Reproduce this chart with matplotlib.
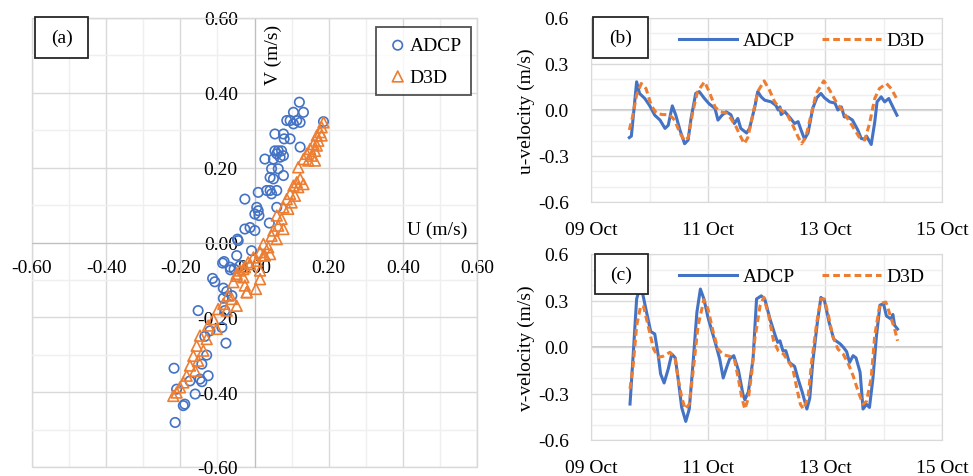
import matplotlib
matplotlib.use("Agg")
import matplotlib.pyplot as plt
import numpy as np
from matplotlib.patches import Rectangle
from matplotlib.ticker import MultipleLocator, FixedLocator, FuncFormatter

plt.rcParams['font.family'] = ['Liberation Serif', 'DejaVu Serif']

BLUE = '#4472C4'
ORANGE = '#ED7D31'

# ---- (a) scatter: U, V (m/s) ----
adcp_u = [0.121, 0.105, 0.132, 0.087, 0.096, 0.114, 0.123, 0.105, 0.186, 0.055,
          0.078, 0.080, 0.096, 0.123, 0.055, 0.064, 0.073, 0.060, 0.078, 0.028,
          0.051, 0.069, 0.046, 0.064, 0.078, 0.042, 0.051, 0.010, 0.033, 0.042,
          0.060, 0.046, -0.026, 0.006, 0.010, 0.001, 0.012, 0.060, 0.040, -0.026,
          -0.012, 0.001, -0.044, -0.048, -0.082, -0.066, -0.055, -0.039, -0.046,
          -0.008, -0.113, -0.107, -0.084, -0.075, -0.061, -0.084, -0.152, -0.080,
          -0.088, -0.120, -0.134, -0.077, -0.129, -0.142, -0.217, -0.125, -0.147,
          -0.174, -0.142, -0.160, -0.188, -0.214, -0.192, -0.210, -0.086, -0.065]
adcp_v = [0.375, 0.348, 0.348, 0.326, 0.326, 0.326, 0.321, 0.317, 0.323, 0.290,
          0.290, 0.277, 0.277, 0.255, 0.245, 0.245, 0.245, 0.237, 0.232, 0.223,
          0.223, 0.228, 0.197, 0.197, 0.179, 0.174, 0.170, 0.134, 0.139, 0.139,
          0.139, 0.130, 0.116, 0.094, 0.085, 0.076, 0.072, 0.094, 0.052, 0.036,
          0.040, 0.032, 0.005, -0.035, -0.051, -0.066, -0.071, -0.062, 0.009,
          -0.022, -0.096, -0.105, -0.122, -0.131, -0.142, -0.149, -0.182, -0.182,
          -0.227, -0.236, -0.251, -0.269, -0.301, -0.325, -0.336, -0.356, -0.365,
          -0.370, -0.372, -0.405, -0.432, -0.481, -0.436, -0.392, -0.055, -0.073]

d3d_u = [0.186, 0.181, 0.177, 0.168, 0.181, 0.172, 0.159, 0.168, 0.150, 0.163,
         0.141, 0.154, 0.132, 0.145, 0.163, 0.118, 0.114, 0.123, 0.105, 0.132,
         0.118, 0.096, 0.109, 0.087, 0.100, 0.078, 0.091, 0.060, 0.073, 0.064,
         0.078, 0.051, 0.046, 0.060, 0.024, 0.037, 0.015, 0.028, -0.003, -0.017,
         -0.026, -0.039, -0.048, 0.042, 0.024, 0.006, -0.012, -0.030, -0.048,
         -0.030, -0.057, -0.026, 0.004, -0.021, -0.071, -0.061, -0.084, -0.048,
         -0.098, -0.075, -0.111, -0.125, -0.102, -0.147, -0.129, -0.156, -0.138,
         -0.165, -0.152, -0.174, -0.160, -0.183, -0.192, -0.201, -0.210, -0.219,
         0.015, -0.021, 0.015]
d3d_v = [0.321, 0.308, 0.295, 0.286, 0.286, 0.272, 0.263, 0.259, 0.250, 0.245,
         0.237, 0.232, 0.223, 0.219, 0.219, 0.201, 0.161, 0.170, 0.152, 0.156,
         0.148, 0.130, 0.125, 0.116, 0.107, 0.094, 0.090, 0.072, 0.063, 0.045,
         0.036, 0.032, 0.018, 0.009, -0.004, -0.013, -0.026, -0.035, -0.040,
         -0.053, -0.066, -0.075, -0.089, -0.031, -0.035, -0.049, -0.058, -0.071,
         -0.084, -0.093, -0.106, -0.115, -0.124, -0.133, -0.142, -0.151, -0.164,
         -0.169, -0.178, -0.182, -0.205, -0.222, -0.231, -0.249, -0.258, -0.276,
         -0.289, -0.303, -0.316, -0.329, -0.343, -0.356, -0.374, -0.387, -0.401,
         -0.410, -0.098, -0.133, -0.075]

# ---- (b) u-velocity time series (day of October, m/s) ----
adcp_u_t = [9.655, 9.69, 9.78, 9.83, 9.92, 10.0, 10.09, 10.18, 10.265, 10.32, 10.39,
            10.45, 10.52, 10.6, 10.66, 10.71, 10.79, 10.85, 10.94, 11.02, 11.12,
            11.17, 11.24, 11.31, 11.39, 11.45, 11.51, 11.56, 11.66, 11.71, 11.80,
            11.85, 11.91, 11.97, 12.08, 12.16, 12.2, 12.23, 12.25, 12.31, 12.39,
            12.48, 12.54, 12.59, 12.65, 12.71, 12.79, 12.86, 12.93, 12.99, 13.08,
            13.17, 13.22, 13.28, 13.33, 13.39, 13.47, 13.56, 13.62, 13.68, 13.71,
            13.79, 13.85, 13.89, 13.96, 14.02, 14.09, 14.16, 14.23]
adcp_u_v = [-0.18, -0.17, 0.184, 0.108, 0.075, 0.03, -0.034, -0.066, -0.12, -0.10,
            0.027, -0.034, -0.13, -0.22, -0.196, -0.055, 0.108, 0.12, 0.075, 0.04,
            0.01, -0.066, -0.034, -0.012, -0.03, -0.088, -0.055, -0.12, -0.15, -0.12,
            0.02, 0.12, 0.085, 0.064, 0.053, 0.03, 0.0, 0.02, -0.03, -0.01, -0.045,
            -0.088, -0.076, -0.13, -0.19, -0.15, 0.01, 0.08, 0.108, 0.08, 0.053,
            0.045, 0.0, 0.02, -0.045, -0.045, -0.066, -0.13, -0.186, -0.19, -0.17,
            -0.225, -0.08, 0.053, 0.086, 0.053, 0.075, 0.02, -0.034]

d3d_u_t = [9.655, 9.71, 9.78, 9.86, 9.94, 10.03, 10.12, 10.23, 10.34, 10.43, 10.52,
           10.6, 10.66, 10.74, 10.82, 10.94, 11.02, 11.12, 11.2, 11.31, 11.39, 11.48,
           11.56, 11.62, 11.68, 11.77, 11.85, 11.96, 12.05, 12.14, 12.25, 12.36,
           12.45, 12.54, 12.6, 12.67, 12.76, 12.85, 12.98, 13.08, 13.19, 13.31,
           13.42, 13.51, 13.6, 13.68, 13.76, 13.85, 13.93, 14.05, 14.13, 14.24]
d3d_u_v = [-0.13, -0.045, 0.1, 0.173, 0.14, 0.03, -0.023, -0.03, -0.03, -0.066,
           -0.15, -0.2, -0.18, -0.012, 0.12, 0.184, 0.12, 0.02, -0.01, -0.02,
           -0.055, -0.11, -0.175, -0.22, -0.18, -0.023, 0.12, 0.19, 0.13, 0.053,
           0.0, -0.034, -0.1, -0.175, -0.22, -0.18, -0.034, 0.108, 0.19, 0.13,
           0.053, -0.01, -0.076, -0.13, -0.186, -0.196, -0.09, 0.075, 0.14, 0.173,
           0.14, 0.064]

# ---- (c) v-velocity time series (day of October, m/s) ----
adcp_v_t = [9.667, 9.72, 9.78, 9.82, 9.88, 9.95, 10.02, 10.09, 10.15, 10.19, 10.25,
            10.32, 10.38, 10.44, 10.49, 10.55, 10.62, 10.68, 10.75, 10.81, 10.87,
            10.93, 11.0, 11.09, 11.13, 11.2, 11.26, 11.32, 11.37, 11.44, 11.52,
            11.6, 11.63, 11.69, 11.77, 11.83, 11.91, 11.97, 12.06, 12.15, 12.19,
            12.23, 12.28, 12.33, 12.39, 12.48, 12.54, 12.61, 12.69, 12.74, 12.79,
            12.87, 12.93, 12.99, 13.07, 13.15, 13.26, 13.31, 13.37, 13.42, 13.48,
            13.53, 13.6, 13.65, 13.71, 13.76, 13.82, 13.88, 13.94, 14.0, 14.05,
            14.13, 14.16, 14.19, 14.24]
adcp_v_v = [-0.368, -0.056, 0.31, 0.363, 0.35, 0.224, 0.1, 0.084, -0.056, -0.174,
            -0.232, -0.142, -0.045, -0.07, -0.206, -0.39, -0.48, -0.40, -0.077,
            0.224, 0.374, 0.31, 0.19, 0.073, 0.02, -0.077, -0.2, -0.13, -0.077,
            -0.056, -0.15, -0.31, -0.34, -0.29, -0.077, 0.31, 0.33, 0.31, 0.18,
            0.073, 0.03, 0.04, -0.024, -0.024, -0.1, -0.125, -0.206, -0.29, -0.4,
            -0.33, -0.1, 0.16, 0.32, 0.30, 0.16, 0.05, 0.02, 0.0, -0.03, -0.1,
            -0.056, -0.07, -0.163, -0.4, -0.37, -0.39, -0.2, 0.073, 0.27, 0.28,
            0.2, 0.18, 0.21, 0.14, 0.116]

d3d_v_t = [9.667, 9.72, 9.78, 9.85, 9.9, 9.98, 10.07, 10.15, 10.23, 10.35, 10.44,
           10.49, 10.55, 10.61, 10.68, 10.75, 10.83, 10.93, 11.0, 11.09, 11.17,
           11.26, 11.37, 11.45, 11.52, 11.58, 11.63, 11.69, 11.75, 11.8, 11.89,
           11.955, 12.04, 12.12, 12.2, 12.29, 12.37, 12.45, 12.52, 12.58, 12.63,
           12.71, 12.77, 12.86, 12.93, 12.99, 13.06, 13.13, 13.22, 13.31, 13.4,
           13.48, 13.57, 13.65, 13.71, 13.79, 13.85, 13.94, 14.04, 14.11, 14.19,
           14.24]
d3d_v_v = [-0.27, -0.12, 0.137, 0.266, 0.26, 0.13, -0.013, -0.066, -0.06, -0.034,
           -0.077, -0.206, -0.325, -0.4, -0.37, -0.142, 0.137, 0.305, 0.245, 0.095,
           -0.013, -0.05, -0.06, -0.077, -0.206, -0.33, -0.4, -0.33, -0.16, 0.05,
           0.266, 0.32, 0.2, 0.04, -0.024, -0.045, -0.09, -0.14, -0.27, -0.37,
           -0.4, -0.33, -0.1, 0.16, 0.31, 0.31, 0.2, 0.073, -0.013, -0.045, -0.11,
           -0.185, -0.29, -0.37, -0.35, -0.2, 0.073, 0.28, 0.29, 0.21, 0.116, 0.04]

date_ticks = [9, 11, 13, 15]

W, H = 973, 477
fig = plt.figure(figsize=(W / 100, H / 100), dpi=100)

FS = 14
MAJOR = '#d9d9d9'
MINOR = '#efefef'
ZERO = '#bfbfbf'


def fig_box(x0, y0, x1, y1, label):
    # label box drawn in pixel coordinates of the figure
    fig.patches.append(Rectangle((x0 / W, 1 - y1 / H), (x1 - x0) / W, (y1 - y0) / H,
                                 transform=fig.transFigure, facecolor='white',
                                 edgecolor='#262626', linewidth=1.3, zorder=10))
    fig.text((x0 + x1) / 2 / W, 1 - (y0 + y1) / 2 / H, label, ha='center', va='center',
             fontsize=FS, zorder=11)


# ---------- panel (a) ----------
ax = fig.add_axes([32 / W, 1 - 468 / H, 445 / W, 449 / H])
ax.set_xlim(-0.6, 0.6)
ax.set_ylim(-0.6, 0.6)
ax.xaxis.set_major_locator(MultipleLocator(0.2))
ax.yaxis.set_major_locator(MultipleLocator(0.2))
ax.xaxis.set_minor_locator(MultipleLocator(0.1))
ax.yaxis.set_minor_locator(MultipleLocator(0.1))
ax.grid(which='major', color=MAJOR, linewidth=1.0, zorder=0)
ax.grid(which='minor', color=MINOR, linewidth=1.0, zorder=0)
fmt2 = FuncFormatter(lambda v, p: f"{v:.2f}".replace('-0.00', '0.00'))
ax.xaxis.set_major_formatter(fmt2)
ax.yaxis.set_major_formatter(fmt2)
for s in ['top', 'right']:
    ax.spines[s].set_color(MAJOR)
ax.spines['left'].set_position(('data', 0))
ax.spines['bottom'].set_position(('data', 0))
ax.spines['left'].set_color(ZERO)
ax.spines['bottom'].set_color(ZERO)
ax.add_patch(Rectangle((0, 0), 1, 1, transform=ax.transAxes, fill=False,
                       edgecolor=MAJOR, linewidth=1.0, clip_on=False, zorder=1))
ax.tick_params(which='both', length=0, labelsize=FS, pad=12)
ax.scatter(adcp_u, adcp_v, s=46, facecolors='none', edgecolors=BLUE, linewidths=1.2,
           marker='o', label='ADCP', zorder=3)
ax.scatter(d3d_u, d3d_v, s=60, facecolors='none', edgecolors=ORANGE, linewidths=1.2,
           marker='^', label='D3D', zorder=4)
ax.text(0.05, 0.505, 'V (m/s)', rotation=90, fontsize=FS, ha='center', va='center')
ax.text(0.492, 0.036, 'U (m/s)', fontsize=FS, ha='center', va='center')
leg = ax.legend(loc='upper right', bbox_to_anchor=(0.987, 0.98), fontsize=FS,
                frameon=True, fancybox=False, edgecolor='#262626', handletextpad=0.0,
                borderpad=0.5, labelspacing=0.7, handlelength=1.2, borderaxespad=0)
leg.get_frame().set_linewidth(1.3)
fig_box(35, 18, 88, 59, '(a)')


# ---------- panels (b) and (c) ----------
def ts_panel(rect, t1, y1, t2, y2, ylabel, label_box, label):
    a = fig.add_axes(rect)
    a.set_xlim(9, 15)
    a.set_ylim(-0.6, 0.6)
    a.xaxis.set_major_locator(FixedLocator(date_ticks))
    a.xaxis.set_minor_locator(MultipleLocator(1))
    a.yaxis.set_major_locator(MultipleLocator(0.3))
    a.yaxis.set_minor_locator(MultipleLocator(0.1))
    a.grid(which='major', color=MAJOR, linewidth=1.0, zorder=0)
    a.grid(which='minor', color=MINOR, linewidth=1.0, zorder=0)
    a.axhline(0, color=ZERO, linewidth=1.2, zorder=1)
    for s in a.spines.values():
        s.set_color(MAJOR)
    a.xaxis.set_major_formatter(FuncFormatter(lambda v, p: f"{int(round(v)):02d} Oct"))
    a.yaxis.set_major_formatter(FuncFormatter(lambda v, p: f"{v:.1f}".replace('-0.0', '0.0')))
    a.tick_params(which='both', length=0, labelsize=FS)
    a.tick_params(axis='x', pad=14)
    a.tick_params(axis='y', pad=16)
    a.plot(t1, y1, color=BLUE, linewidth=2.2, label='ADCP', zorder=3)
    a.plot(t2, y2, color=ORANGE, linewidth=2.2, linestyle=(0, (2.2, 1.3)), label='D3D', zorder=4)
    a.set_ylabel(ylabel, fontsize=FS, labelpad=2)
    a.legend(loc='upper right', bbox_to_anchor=(1.0, 1.02), ncol=2, frameon=False,
             fontsize=FS, handlelength=3.0, handletextpad=0.3, columnspacing=1.4)
    fig_box(*label_box, label)
    return a


ts_panel([591 / W, 1 - 203 / H, 351 / W, 184 / H], adcp_u_t, adcp_u_v, d3d_u_t, d3d_u_v,
         'u-velocity (m/s)', (593, 18, 648, 59), '(b)')
ts_panel([591 / W, 1 - 441 / H, 351 / W, 186 / H], adcp_v_t, adcp_v_v, d3d_v_t, d3d_v_v,
         'v-velocity (m/s)', (595, 255, 648, 295), '(c)')

fig.savefig('out.png', dpi=100)
